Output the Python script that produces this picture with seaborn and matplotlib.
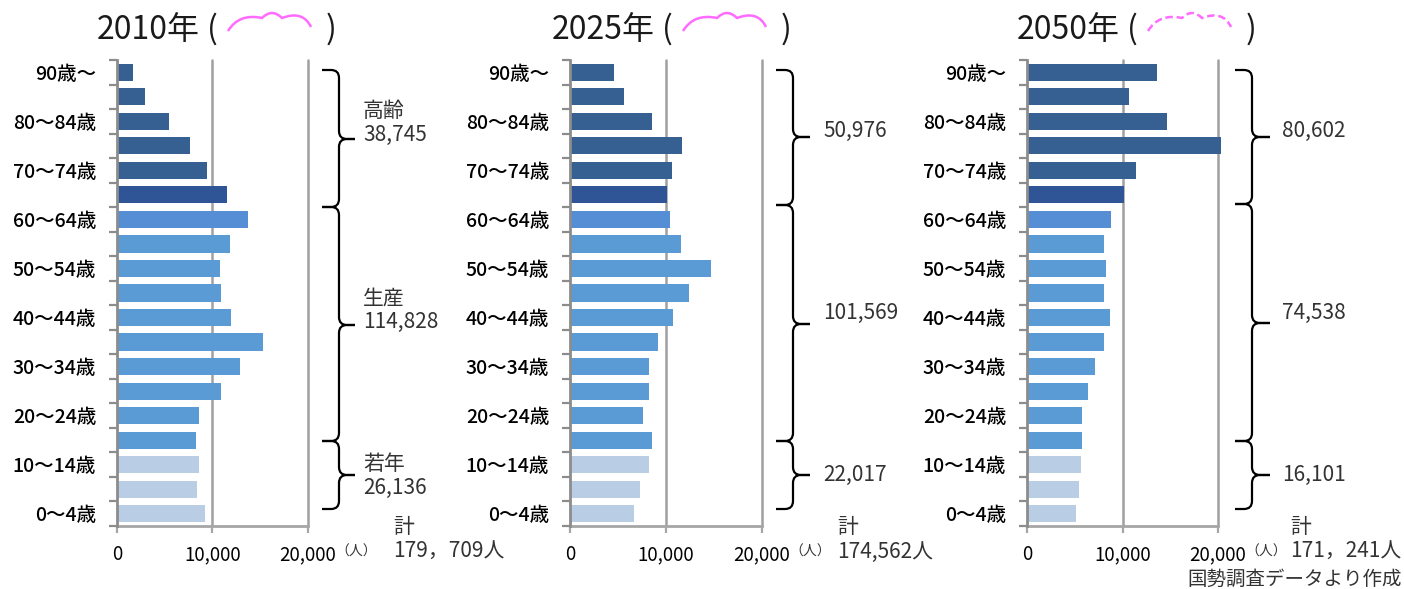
import numpy as np
import pandas as pd
import matplotlib
matplotlib.use("Agg")
import matplotlib.pyplot as plt
import seaborn as sns
from matplotlib.path import Path
from matplotlib.patches import PathPatch

# ---------------- data ----------------
ages = ["90歳～", "85～89歳", "80～84歳", "75～79歳", "70～74歳", "65～69歳",
        "60～64歳", "55～59歳", "50～54歳", "45～49歳", "40～44歳", "35～39歳",
        "30～34歳", "25～29歳", "20～24歳", "15～19歳", "10～14歳", "5～9歳", "0～4歳"]
years = ["2010年", "2025年", "2050年"]
pop_2010 = [1680, 2930, 5450, 7640, 9420, 11520, 13720, 11830, 10790, 10890,
            11940, 15290, 12880, 10890, 8590, 8270, 8590, 8380, 9210]
pop_2025 = [4580, 5620, 8540, 11670, 10630, 10100, 10420, 11560, 14690, 12400,
            10730, 9170, 8230, 8230, 7600, 8540, 8230, 7290, 6670]
pop_2050 = [13600, 10650, 14650, 20300, 11400, 10150, 8800, 8050, 8250, 8050,
            8650, 8050, 7100, 6350, 5730, 5730, 5620, 5420, 5100]
group_names = [["高齢", "生産", "若年"], ["", "", ""], ["", "", ""]]
group_totals = [["38,745", "114,828", "26,136"],
                ["50,976", "101,569", "22,017"],
                ["80,602", "74,538", "16,101"]]
grand_totals = ["179，709人", "174,562人", "171，241人"]
x_ticks = [0, 10000, 20000]
x_ticklabels = ["0", "10,000", "20,000"]
unit_label = "（人）"
total_label = "計"
source_note = "国勢調査データより作成"

# ---------------- style ----------------
bar_colors = (["#376092"] * 5 + ["#2F5597"] + ["#558ED5"] + ["#5B9BD5"] * 9
              + ["#B9CDE5"] * 3)
W, H = 1404, 589
FONT = ["Noto Sans CJK JP", "DejaVu Sans"]

sns.set_theme(style="white")
plt.rcParams["font.family"] = FONT

fig = plt.figure(figsize=(W / 100, H / 100), dpi=100)

# overlay in pixel coordinates for annotations
ov = fig.add_axes([0, 0, 1, 1])
ov.set_xlim(0, W)
ov.set_ylim(H, 0)
ov.axis("off")
ov.patch.set_alpha(0)

panels = [(117, 308), (570, 762), (1027, 1218)]
top_px, bot_px = 60, 526
offsets = [0, 455, 920]
series = [pop_2010, pop_2025, pop_2050]

def brace(xl, xm, xt, yt, ym, yb, r=8):
    verts = [(xl, yt), (xm - r, yt), (xm, yt), (xm, yt + r),
             (xm, ym - r), (xm, ym), (xm + r, ym), (xt, ym)]
    codes = [Path.MOVETO, Path.LINETO, Path.CURVE3, Path.CURVE3,
             Path.LINETO, Path.CURVE3, Path.CURVE3, Path.LINETO]
    ov.add_patch(PathPatch(Path(verts, codes), fill=False, lw=1.6,
                           edgecolor="black", capstyle="butt"))
    verts = [(xt, ym), (xm + r, ym), (xm, ym), (xm, ym + r),
             (xm, yb - r), (xm, yb), (xm - r, yb), (xl, yb)]
    ov.add_patch(PathPatch(Path(verts, codes), fill=False, lw=1.6,
                           edgecolor="black", capstyle="butt"))

def cloud(dx, dashed):
    segs = [((228, 31), (239, 13), (262, 18)),
            ((262, 18), (272, 8), (282, 18)),
            ((282, 18), (303, 10), (311, 27))]
    verts, codes = [], []
    for i, (a, c, b) in enumerate(segs):
        if i == 0:
            verts.append((a[0] + dx, a[1])); codes.append(Path.MOVETO)
        verts += [(c[0] + dx, c[1]), (b[0] + dx, b[1])]
        codes += [Path.CURVE3, Path.CURVE3]
    ov.add_patch(PathPatch(Path(verts, codes), fill=False, lw=1.8,
                           edgecolor="#FF6BFF",
                           linestyle=(0, (3, 1.5)) if dashed else "solid"))

brace_x = [(322, 339, 355), (776, 793, 810), (1235, 1252, 1270)]
brace_y = [[(70, 139, 207), (207, 325, 441), (441, 475, 509)],
           [(70, 137, 205), (205, 324, 441), (441, 475, 509)],
           [(70, 137, 204), (204, 323, 441), (441, 475, 509)]]
label_x = [363, 823, 1282]
label_y = [[123, 310, 476], [131, 313, 475], [131, 313, 475]]

for k in range(3):
    left, right = panels[k]
    ax = fig.add_axes([left / W, 1 - bot_px / H, (right - left) / W,
                       (bot_px - top_px) / H])
    df = pd.DataFrame({"age": ages, "pop": series[k]})
    sns.barplot(data=df, x="pop", y="age", hue="age",
                palette=dict(zip(ages, bar_colors)), dodge=False,
                legend=False, width=0.7, saturation=1, orient="h",
                linewidth=0, ax=ax)
    for p in ax.patches:
        p.set_clip_on(False)
    ax.set_xlim(0, 20000)
    ax.set_ylim(18.5, -0.5)
    ax.set_xlabel("")
    ax.set_ylabel("")
    ax.set_facecolor("white")
    for s in ["top", "right"]:
        ax.spines[s].set_visible(False)
    ax.spines["left"].set_color("#8C8C8C")
    ax.spines["left"].set_linewidth(2)
    ax.spines["left"].set_zorder(5)
    ax.spines["bottom"].set_color("#A6A6A6")
    ax.spines["bottom"].set_linewidth(2)
    for xv in x_ticks[1:]:
        ax.axvline(xv, color="#A0A0A0", lw=1.8, zorder=0, clip_on=False)
    ax.set_xticks(x_ticks)
    ax.set_xticklabels(x_ticklabels)
    ax.set_yticks(np.arange(0, 19, 2))
    ax.set_yticklabels(ages[::2], fontweight="medium")
    ax.set_yticks(np.arange(-0.5, 19, 1), minor=True)
    ax.tick_params(axis="y", which="major", length=0, pad=15,
                   labelsize=14, labelcolor="black")
    ax.tick_params(axis="y", which="minor", length=6, width=1.6,
                   color="#8C8C8C", left=True)
    ax.tick_params(axis="x", which="major", length=5, width=1.6,
                   color="#A6A6A6", bottom=True, pad=8, labelsize=13.5,
                   labelcolor="black")
    ax.grid(False)

    dx = offsets[k]
    # title
    ov.text(97 + dx, 30, years[k], fontsize=23, color="#1A1A1A",
            ha="left", va="center")
    ov.text(212 + dx, 29, "(", fontsize=23, color="#1A1A1A",
            ha="center", va="center")
    ov.text(331 + dx, 29, ")", fontsize=23, color="#1A1A1A",
            ha="center", va="center")
    cloud(dx, dashed=(k == 2))

    # braces and labels
    xl, xm, xt = brace_x[k]
    for g in range(3):
        yt, ym, yb = brace_y[k][g]
        brace(xl, xm, xt, yt, ym, yb)
        txt = group_totals[k][g]
        if group_names[k][g]:
            txt = group_names[k][g] + "\n" + txt
        ov.text(label_x[k], label_y[k][g], txt, fontsize=15, color="#333333",
                ha="left", va="center", linespacing=1.1)

    # unit and totals
    ov.text(right + 27, 552, unit_label, fontsize=10, color="#333333",
            ha="left", va="center")
    tx = [393, 837, 1290][k]
    ov.text(tx, 527, total_label, fontsize=15, color="#333333",
            ha="left", va="center")
    ov.text(tx, 552, grand_totals[k], fontsize=15, color="#333333",
            ha="left", va="center")

ov.text(1402, 579, source_note, fontsize=14, color="#333333",
        ha="right", va="center")

fig.savefig("out.png", dpi=100)
